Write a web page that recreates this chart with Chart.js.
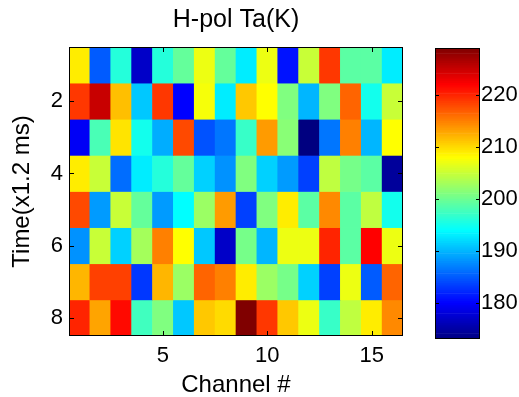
<!DOCTYPE html>
<html>
<head>
<meta charset="utf-8">
<script src="https://cdn.jsdelivr.net/npm/chart.js@4"></script>
<style>
  html, body { margin: 0; padding: 0; background: #fff; overflow: hidden; }
  #wrap { position: relative; width: 519px; height: 397px; }
  #wrap canvas { position: absolute; left: 0; top: 0; }
</style>
</head>
<body>
<div id="wrap">
  <canvas id="map" width="519" height="397"></canvas>
  <canvas id="cbar" width="519" height="397"></canvas>
</div>
<script>
// Antenna temperature (K), one array per time step, channels 1..16
const channels = [1, 2, 3, 4, 5, 6, 7, 8, 9, 10, 11, 12, 13, 14, 15, 16];
const times = [1, 2, 3, 4, 5, 6, 7, 8];
const taRow1 = [209, 185, 196, 177, 196, 199.5, 207, 199.5, 193, 207, 181, 205, 219, 199, 199, 193];
const taRow2 = [219, 225, 211.5, 191, 219, 180, 207.5, 193, 211, 208, 201, 190, 201, 216.5, 195, 205];
const taRow3 = [179.5, 198, 209.5, 195, 189.5, 218, 184.5, 186.5, 197, 213.5, 201.5, 173, 186.5, 215, 190, 208];
const taRow4 = [209, 205, 186, 193, 196, 199.5, 191.5, 188, 201, 191.5, 188.5, 183.5, 204.5, 200.5, 199, 174.5];
const taRow5 = [218, 188.5, 205, 199.5, 188.5, 194, 202.5, 213.5, 183.5, 201, 209, 199, 214.5, 199, 204.5, 195];
const taRow6 = [188, 205, 191.5, 203, 215, 208, 191, 177, 200.5, 190, 207, 207, 220, 199, 222, 207];
const taRow7 = [212, 218.5, 218.5, 183, 212, 202.5, 216.5, 215, 209, 202.5, 200.5, 191.5, 183.5, 207, 185, 216.5];
const taRow8 = [220, 213, 221.5, 197.5, 201, 191, 211, 210, 229, 219, 211, 207, 197, 204.5, 209, 214.5];
const taRows = [taRow1, taRow2, taRow3, taRow4, taRow5, taRow6, taRow7, taRow8];

const xTicks = [5, 10, 15];
const yTicks = [2, 4, 6, 8];
const cbTicks = [180, 190, 200, 210, 220];

const FONT = "'Liberation Sans', Arial, Helvetica, sans-serif";
Chart.defaults.color = '#000';
Chart.defaults.font.family = FONT;

// colour limits follow the data range
const allVals = taRows.flat();
const cMin = Math.min(...allVals);
const cMax = Math.max(...allVals);

// jet colormap
function jet(v) {
  const t = Math.max(0, Math.min(1, (v - cMin) / (cMax - cMin)));
  const c = (x) => Math.round(255 * Math.max(0, Math.min(1, 1.5 - Math.abs(x))));
  return `rgb(${c(4 * t - 3)},${c(4 * t - 2)},${c(4 * t - 1)})`;
}

// black frame with short inward tick marks on every side
const frameTicks = {
  id: 'frameTicks',
  afterDraw(chart, args, opts) {
    const { ctx, chartArea: a } = chart;
    const len = opts.len || 5;
    ctx.save();
    ctx.strokeStyle = '#000';
    ctx.lineWidth = 1;
    ctx.strokeRect(a.left + 0.5, a.top + 0.5, a.right - a.left - 1, a.bottom - a.top - 1);
    ctx.beginPath();
    (opts.h || []).forEach((id) => {
      const s = chart.scales[id];
      s.ticks.forEach((t) => {
        const x = Math.round(s.getPixelForValue(t.value)) + 0.5;
        ctx.moveTo(x, a.bottom); ctx.lineTo(x, a.bottom - len);
        ctx.moveTo(x, a.top); ctx.lineTo(x, a.top + len);
      });
    });
    (opts.v || []).forEach((id) => {
      const s = chart.scales[id];
      s.ticks.forEach((t) => {
        const y = Math.round(s.getPixelForValue(t.value)) + 0.5;
        ctx.moveTo(a.left, y); ctx.lineTo(a.left + len, y);
        ctx.moveTo(a.right, y); ctx.lineTo(a.right - len, y);
      });
    });
    ctx.stroke();
    ctx.restore();
  }
};

// heatmap: one floating-bar dataset per time step
const mapDatasets = taRows.map((row, i) => ({
  data: row.map((v, j) => ({ x: channels[j], y: [times[i] - 0.5, times[i] + 0.5] })),
  backgroundColor: row.map(jet),
  borderWidth: 0
}));

new Chart(document.getElementById('map'), {
  type: 'bar',
  data: { datasets: mapDatasets },
  plugins: [frameTicks],
  options: {
    responsive: false,
    animation: false,
    layout: { padding: { left: 0, right: 116, top: 0, bottom: 0 } },
    datasets: { bar: { barPercentage: 1, categoryPercentage: 1, grouped: false } },
    plugins: {
      legend: { display: false },
      tooltip: { enabled: false },
      title: {
        display: true,
        text: 'H-pol Ta(K)',
        fullSize: false,
        font: { size: 25, weight: 'normal', lineHeight: 1.2 },
        padding: { top: 5, bottom: 12 }
      },
      frameTicks: { h: ['x'], v: ['y'], len: 5 }
    },
    scales: {
      x: {
        type: 'linear',
        offset: false,
        min: 0.5,
        max: 16.5,
        afterBuildTicks: (s) => { s.ticks = xTicks.map((v) => ({ value: v })); },
        afterFit: (s) => { s.height = 61; },
        grid: { display: false, drawTicks: false, offset: false },
        border: { display: false },
        ticks: { font: { size: 22 }, padding: 7, maxRotation: 0 },
        title: { display: true, text: 'Channel #', font: { size: 24, lineHeight: 1.2 }, padding: { top: 0, bottom: -3 } }
      },
      y: {
        type: 'linear',
        reverse: true,
        min: 0.5,
        max: 8.5,
        afterBuildTicks: (s) => { s.ticks = yTicks.map((v) => ({ value: v })); },
        afterFit: (s) => { s.width = 69; },
        grid: { display: false, drawTicks: false },
        border: { display: false },
        ticks: { font: { size: 22 }, padding: 6 },
        title: { display: true, text: 'Time(x1.2 ms)', font: { size: 24, lineHeight: 1.2 }, padding: { top: 8, bottom: 0 } }
      }
    }
  }
});

// colour bar: stacked slices of the colormap over the colour limits
const cbSteps = 160;
const cbData = [];
const cbColors = [];
for (let i = 0; i < cbSteps; i++) {
  const a = cMin + (cMax - cMin) * i / cbSteps;
  const b = cMin + (cMax - cMin) * (i + 1) / cbSteps;
  cbData.push({ x: '', y: [a, b] });
  cbColors.push(jet((a + b) / 2));
}

new Chart(document.getElementById('cbar'), {
  type: 'bar',
  data: { labels: [''], datasets: [{ data: cbData, backgroundColor: cbColors, borderWidth: 0 }] },
  plugins: [frameTicks],
  options: {
    responsive: false,
    animation: false,
    layout: { padding: { left: 435, right: 0, top: 48, bottom: 58 } },
    datasets: { bar: { barPercentage: 1, categoryPercentage: 1, grouped: false } },
    plugins: {
      legend: { display: false },
      tooltip: { enabled: false },
      frameTicks: { h: [], v: ['y'], len: 4 }
    },
    scales: {
      x: { type: 'category', display: false },
      y: {
        type: 'linear',
        position: 'right',
        min: cMin,
        max: cMax,
        afterBuildTicks: (s) => { s.ticks = cbTicks.map((v) => ({ value: v })); },
        afterFit: (s) => { s.width = 39; },
        grid: { display: false, drawTicks: false },
        border: { display: false },
        ticks: { font: { size: 22 }, padding: 1 }
      }
    }
  }
});
</script>
</body>
</html>
